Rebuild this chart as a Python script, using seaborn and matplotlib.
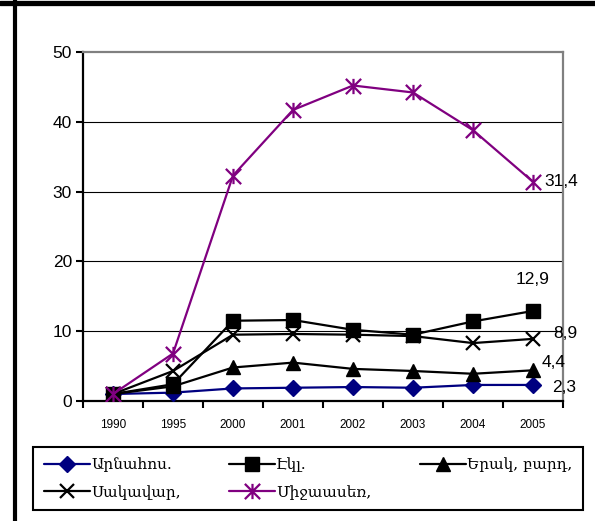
import matplotlib
matplotlib.use("Agg")
import matplotlib.pyplot as plt
from matplotlib.path import Path
from matplotlib.lines import Line2D
import seaborn as sns
import pandas as pd
import numpy as np

years = ["1990", "1995", "2000", "2001", "2002", "2003", "2004", "2005"]
arnahos = [1.0, 1.2, 1.8, 1.9, 2.0, 1.9, 2.3, 2.3]
ekl = [1.0, 2.4, 11.5, 11.6, 10.2, 9.5, 11.4, 12.9]
yerak = [1.0, 2.1, 4.8, 5.5, 4.6, 4.3, 3.9, 4.4]
sakavar = [1.0, 4.3, 9.5, 9.6, 9.5, 9.3, 8.3, 8.9]
mijaaser = [1.0, 6.8, 32.3, 41.7, 45.2, 44.2, 38.8, 31.4]
names = ["Արնահոս.", "Էկլ.", "Երակ, բարդ,", "Սակավար,", "Միջաասեռ,"]
end_labels = ["2,3", "12,9", "4,4", "8,9", "31,4"]

sns.set_theme(style="white")
plt.rcParams["font.family"] = ["Liberation Sans", "DejaVu Sans"]
plt.rcParams["text.color"] = "black"
plt.rcParams["xtick.color"] = "black"
plt.rcParams["ytick.color"] = "black"
plt.rcParams["xtick.labelcolor"] = "black"
plt.rcParams["ytick.labelcolor"] = "black"

star = Path([(-1, -1), (1, 1), (-1, 1), (1, -1), (0, -1), (0, 1)],
            [Path.MOVETO, Path.LINETO, Path.MOVETO, Path.LINETO, Path.MOVETO, Path.LINETO])

series = [
    (arnahos, "#000080", "D", 8.5, 1.0),
    (ekl, "black", "s", 9.5, 1.0),
    (yerak, "black", "^", 10, 1.0),
    (sakavar, "black", "x", 10, 1.6),
    (mijaaser, "#800080", star, 11, 1.6),
]

fig = plt.figure(figsize=(5.95, 5.21), dpi=100)
ax = fig.add_axes([83 / 595, 1 - 401 / 521, (563 - 83) / 595, (401 - 52) / 521])

xpos = np.arange(len(years))
for (vals, col, mk, ms, mew), name in zip(series, names):
    df = pd.DataFrame({"x": xpos, "y": vals})
    sns.lineplot(data=df, x="x", y="y", ax=ax, color=col, marker=mk, markersize=ms,
                 markeredgecolor=col, markerfacecolor=col, markeredgewidth=mew,
                 linewidth=1.6, label=name, zorder=3)

ax.set_xlim(-0.5, len(years) - 0.5)
ax.set_ylim(0, 50)
ax.set_yticks([0, 10, 20, 30, 40, 50])
ax.set_xticks(xpos)
ax.set_xticklabels(years, fontsize=8.5, color="black")
ax.set_xticks(np.arange(-0.5, len(years), 1.0), minor=True)
ax.tick_params(axis="x", which="major", length=0, pad=13, labelcolor="black")
ax.tick_params(axis="x", which="minor", length=5, width=1.5, direction="out", color="black", bottom=True)
ax.tick_params(axis="y", which="major", length=5, width=1.5, direction="out", color="black",
               labelsize=12.5, pad=3, left=True, labelcolor="black")
ax.set_xlabel("")
ax.set_ylabel("")
for y in [10, 20, 30, 40]:
    ax.axhline(y, color="black", linewidth=0.8, zorder=1)
ax.spines["left"].set_color("black")
ax.spines["left"].set_linewidth(1.6)
ax.spines["bottom"].set_color("black")
ax.spines["bottom"].set_linewidth(1.6)
ax.spines["top"].set_color("#808080")
ax.spines["top"].set_linewidth(1.6)
ax.spines["right"].set_color("#808080")
ax.spines["right"].set_linewidth(1.6)

last = len(years) - 1
offsets = [(19, -3, "left"), (0, 31, "center"), (9, 8, "left"), (20, 5, "left"), (11, 0, "left")]
for (vals, *_), lab, (dx, dy, ha) in zip(series, end_labels, offsets):
    ax.annotate(lab, (xpos[last], vals[last]), xytext=(dx * 0.72, dy * 0.72),
                textcoords="offset points", ha=ha, va="center", fontsize=12.5, color="black")

handles, labels = ax.get_legend_handles_labels()
order = [0, 3, 1, 4, 2]
leg = ax.legend([handles[i] for i in order], [labels[i] for i in order], ncol=3,
                loc="center", bbox_to_anchor=(33 / 595, 1 - 512 / 521, 550 / 595, 67 / 521),
                bbox_transform=fig.transFigure, mode="expand", borderaxespad=0,
                frameon=True, fancybox=False, edgecolor="black", framealpha=1,
                prop={"family": ["DejaVu Serif"], "size": 11}, handlelength=3.0,
                handletextpad=0.1, labelspacing=0.85, borderpad=0.7)
leg.get_frame().set_linewidth(1.5)
for t in leg.get_texts():
    t.set_color("black")

fig.add_artist(Line2D([0, 1], [1 - 2.5 / 521, 1 - 2.5 / 521], transform=fig.transFigure,
                      color="black", linewidth=3.8))
fig.add_artist(Line2D([15 / 595, 15 / 595], [0, 1], transform=fig.transFigure,
                      color="black", linewidth=3.0))

fig.savefig("out.png", dpi=100, facecolor="white")
